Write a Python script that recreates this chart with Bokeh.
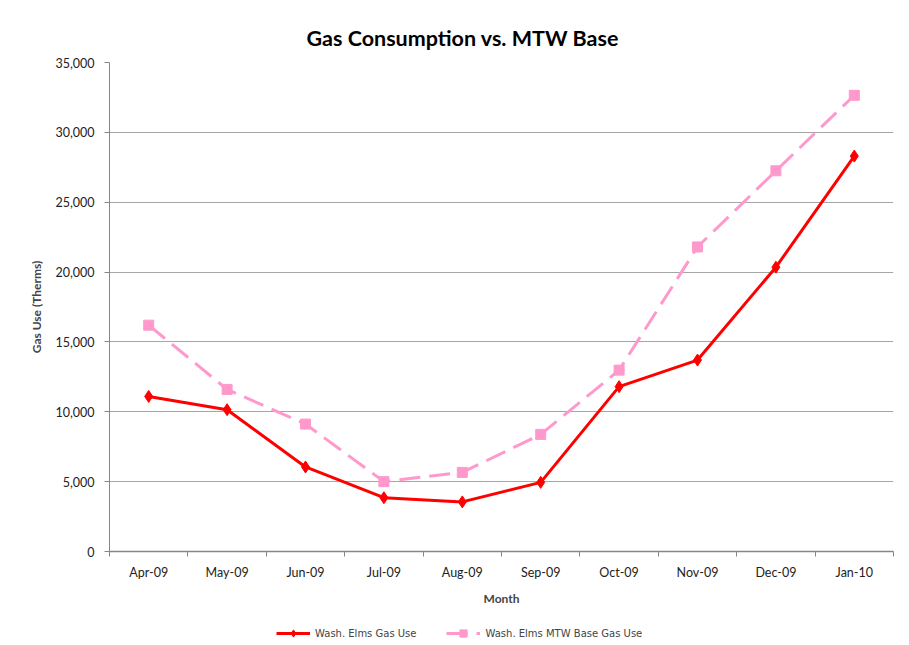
from bokeh.plotting import figure
from bokeh.layouts import column
from bokeh.models import (Range1d, FixedTicker, NumeralTickFormatter, Legend, LegendItem)
from bokeh.embed import file_html
from bokeh.resources import INLINE

months = ["Apr-09", "May-09", "Jun-09", "Jul-09", "Aug-09", "Sep-09",
          "Oct-09", "Nov-09", "Dec-09", "Jan-10"]
gas_use = [11100, 10150, 6050, 3850, 3550, 4950, 11800, 13700, 20350, 28300]
mtw_base = [16200, 11600, 9120, 5000, 5660, 8380, 12980, 21800, 27250, 32650]
y_ticks = [0, 5000, 10000, 15000, 20000, 25000, 30000, 35000]
series_names = ["Wash. Elms Gas Use", "Wash. Elms MTW Base Gas Use"]

xs = [i + 0.5 for i in range(len(months))]
bounds = list(range(len(months) + 1))

FONT = "Lato"
RED = "#FF0000"
PINK = "#FF99CC"

p = figure(width=905, height=610, output_backend="svg", toolbar_location=None,
           x_range=Range1d(0, len(months)), y_range=Range1d(0, 35000),
           min_border_left=109, min_border_right=12, min_border_top=62,
           min_border_bottom=59)

p.title.text = "Gas Consumption vs. MTW Base"
p.title.text_font = FONT
p.title.text_font_size = "21.5px"
p.title.text_font_style = "bold"
p.title.align = "left"
p.title.offset = 197
p.title.standoff = 24
p.title.text_color = "#000000"

p.outline_line_color = None
p.background_fill_color = "white"
p.border_fill_color = "white"

# X axis
xa = p.xaxis[0]
xa.ticker = FixedTicker(ticks=xs, minor_ticks=bounds)
xa.major_label_overrides = {x: m for x, m in zip(xs, months)}
xa.major_tick_line_color = None
xa.major_tick_out = 0
xa.major_tick_in = 0
xa.minor_tick_line_color = "#868686"
xa.minor_tick_out = 5
xa.minor_tick_in = 0
xa.axis_line_color = "#868686"
xa.axis_line_width = 1.5
xa.major_label_standoff = 8
xa.major_label_text_font = FONT
xa.major_label_text_font_size = "12.5px"
xa.major_label_text_color = "#222222"
xa.axis_label = "Month"
xa.axis_label_text_font = FONT
xa.axis_label_text_font_size = "12px"
xa.axis_label_text_font_style = "bold"
xa.axis_label_standoff = 8

# Y axis
ya = p.yaxis[0]
ya.ticker = FixedTicker(ticks=y_ticks)
ya.formatter = NumeralTickFormatter(format="0,0")
ya.minor_tick_line_color = None
ya.major_tick_out = 5
ya.major_tick_in = 0
ya.major_tick_line_color = "#868686"
ya.axis_line_color = "#868686"
ya.major_label_standoff = 10
ya.major_label_text_font = FONT
ya.major_label_text_font_size = "12.5px"
ya.major_label_text_color = "#222222"
ya.axis_label = "Gas Use (Therms)"
ya.axis_label_text_font = FONT
ya.axis_label_text_font_size = "12px"
ya.axis_label_text_font_style = "bold"
ya.axis_label_standoff = 8

p.xgrid.visible = False
p.ygrid.ticker = FixedTicker(ticks=y_ticks)
p.ygrid.grid_line_color = "#a6a6a6"
p.ygrid.grid_line_width = 1

line_kw = [dict(line_color=RED, line_width=3),
           dict(line_color=PINK, line_width=3, line_dash="21 9")]
mark_kw = [dict(marker="diamond", size=12, fill_color=RED, line_color=RED),
           dict(marker="square", size=10, fill_color=PINK, line_color=PINK)]

for ys, lk, mk in zip([gas_use, mtw_base], line_kw, mark_kw):
    p.line(xs, ys, **lk)
    p.scatter(xs, ys, **mk)

# Legend strip below the chart (series drawn out of view, only for the legend keys)
lg = figure(width=905, height=33, output_backend="svg", toolbar_location=None,
            x_range=Range1d(0, 1), y_range=Range1d(-2, -1), min_border=0)
lg.axis.visible = False
lg.grid.visible = False
lg.outline_line_color = None
lg.border_fill_color = "white"
lg.background_fill_color = "white"

items = []
for name, ys, lk, mk in zip(series_names, [gas_use, mtw_base], line_kw, mark_kw):
    r1 = lg.line(xs, ys, **lk)
    r2 = lg.scatter(xs, ys, **mk)
    items.append(LegendItem(label=name, renderers=[r1, r2]))

legend = Legend(items=items, orientation="horizontal", location=(167, 1))
legend.border_line_color = None
legend.background_fill_alpha = 0
legend.label_text_font = "DejaVu Sans"
legend.label_text_font_size = "10px"
legend.glyph_width = 34
legend.glyph_height = 18
legend.spacing = 30
legend.padding = 0
legend.margin = 0
lg.add_layout(legend, "center")

layout = column(p, lg, spacing=0)
open("out.html", "w").write(file_html(layout, INLINE))
